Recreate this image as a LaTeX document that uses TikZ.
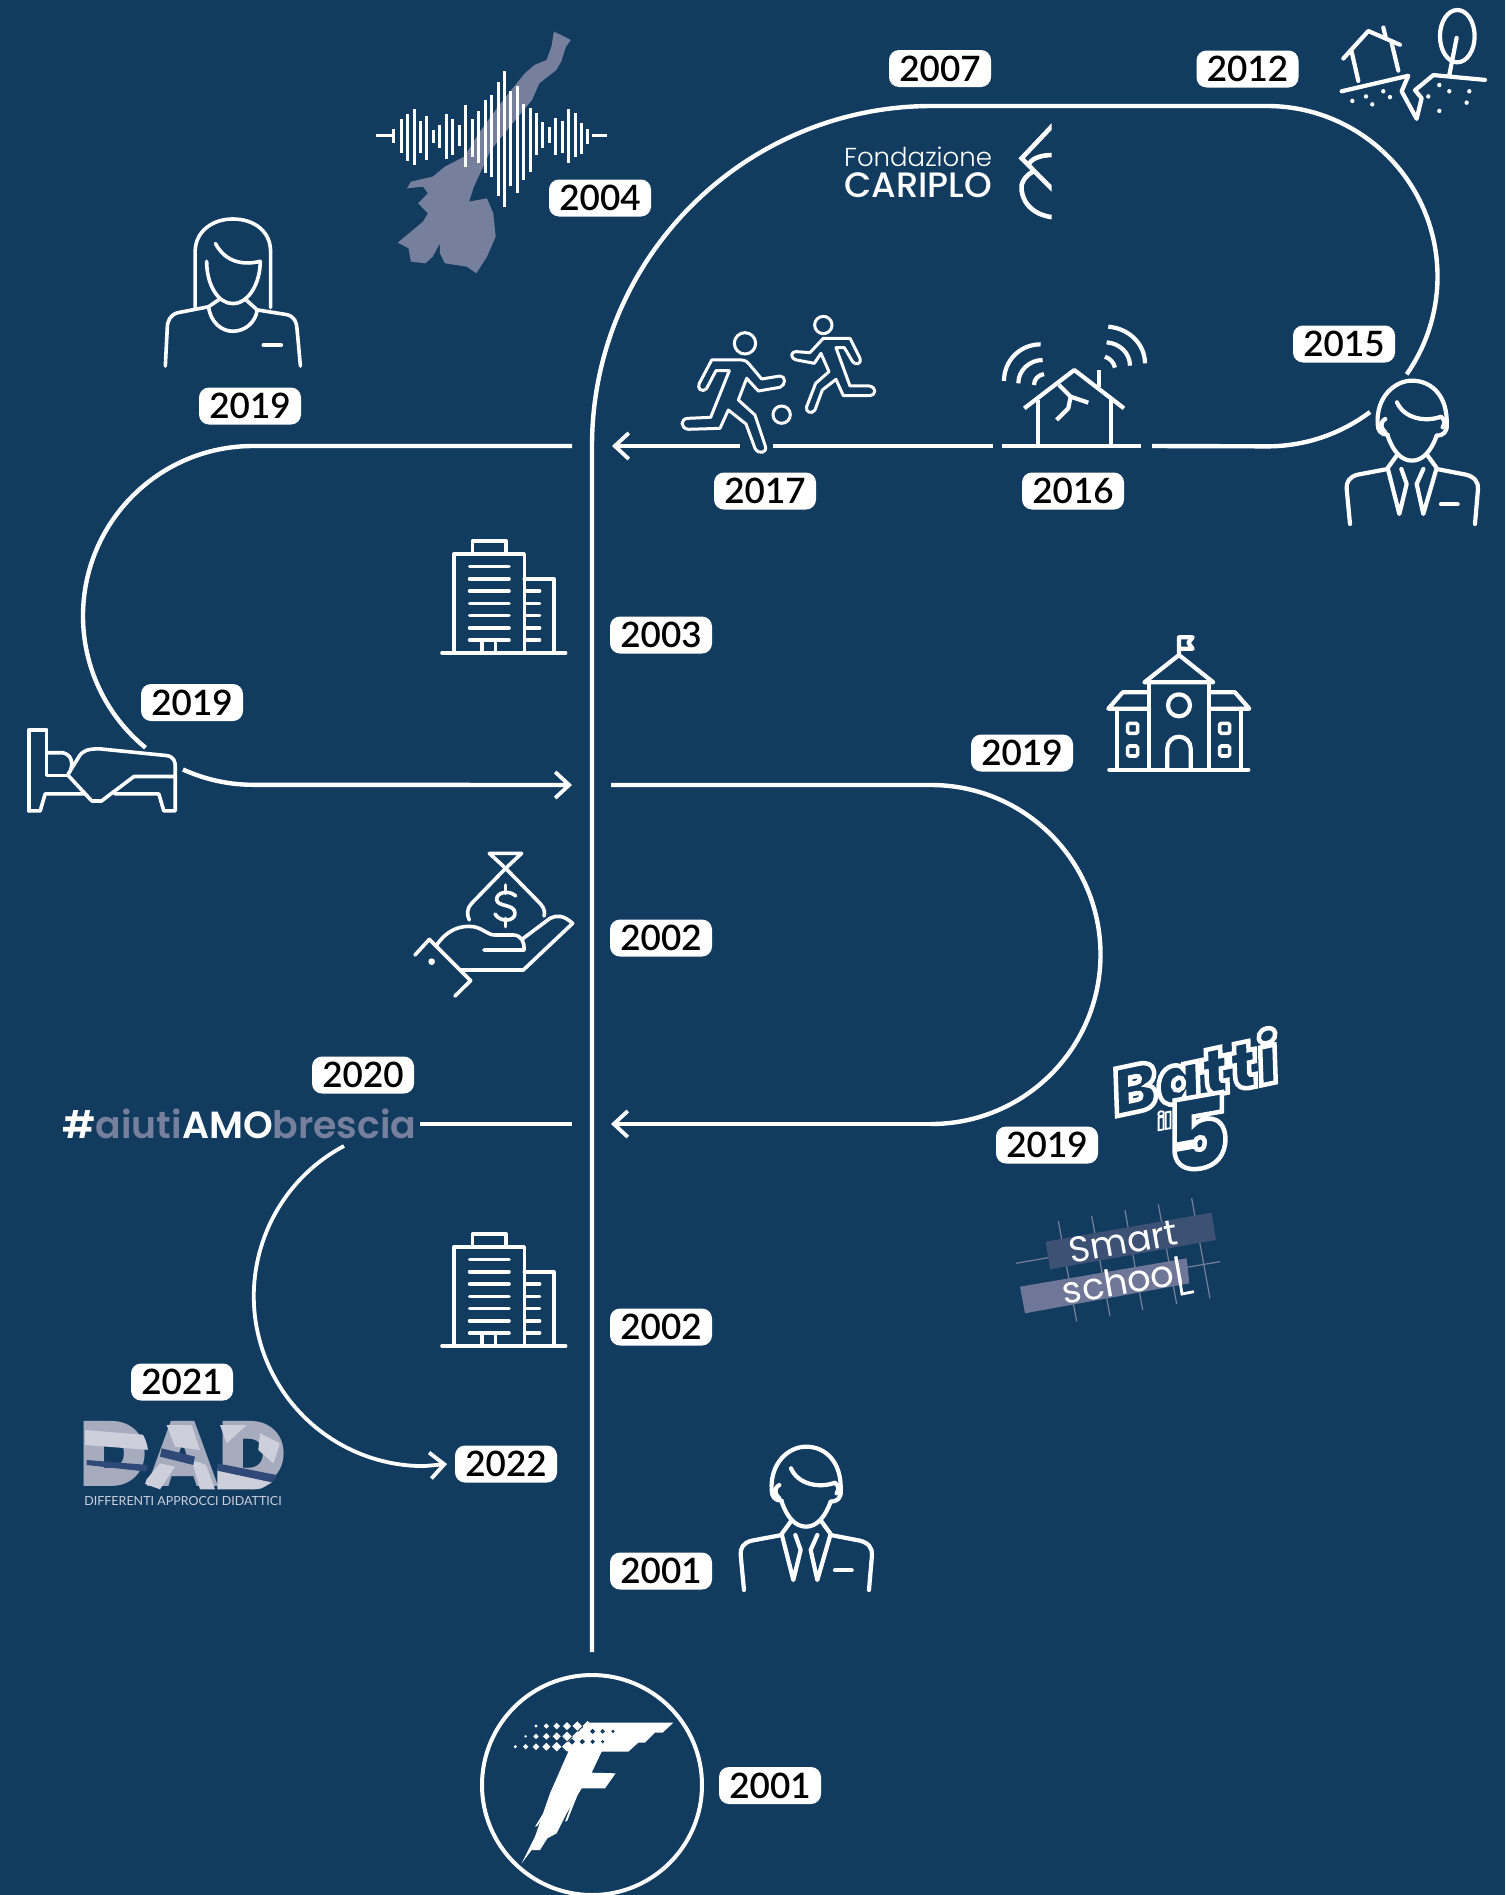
\documentclass[tikz,border=0pt]{standalone}
\usepackage{fontspec}
\usetikzlibrary{arrows.meta}
\setmainfont{Lato}
\newfontfamily\yearfam{Lato}[UprightFont=* Semibold]
\newfontfamily\poplight{Poppins}[UprightFont=* Light]
\newfontfamily\popreg{Poppins}
\newfontfamily\popmed{Poppins}[UprightFont=* Medium]
\newfontfamily\popsemi{Poppins}[UprightFont=* SemiBold]
\newfontfamily\popblack{Poppins}[UprightFont=* Black]
\newfontfamily\popblackit{Poppins}[UprightFont=* Black Italic]
\definecolor{bgc}{HTML}{123B60}
\definecolor{slate}{HTML}{767F9B}
\definecolor{slatedk}{HTML}{3D5175}
\definecolor{slatemd}{HTML}{6E7797}
\definecolor{dadbase}{HTML}{A6ABBE}
\definecolor{dadlight}{HTML}{CDD0DB}
\definecolor{daddark}{HTML}{2F4A78}
\tikzset{
  yeartag/.style={fill=white,rounded corners=10pt,minimum width=102pt,minimum height=37pt,inner sep=0pt,text=black,font=\yearfam\fontsize{35}{40}\selectfont},
  conn/.style={draw=white,line width=4.4pt},
  connthin/.style={draw=white,line width=3.8pt},
  tip/.style={-{Straight Barb[length=14pt,width=26pt,line width=3.8pt]}},
  icon/.style={draw=white,line width=4.2pt,line cap=round,line join=round},
  iconthin/.style={draw=white,line width=3pt,line cap=round,line join=round},
  iconmid/.style={draw=white,line width=3.6pt,line cap=round,line join=round},
  zA/.style={shift={(360,0)},xscale=0.4847,yscale=0.3333},
  zB/.style={shift={(1100,0)},xscale=0.3333,yscale=0.3444},
  zC/.style={shift={(660,300)},xscale=0.3333,yscale=0.3333},
  zD/.style={shift={(0,200)},xscale=0.3827,yscale=0.3954},
  zE/.style={shift={(1000,620)},xscale=0.3333,yscale=0.3333},
  zF/.style={shift={(980,1020)},xscale=0.3333,yscale=0.3333},
  zG/.style={shift={(400,840)},xscale=0.3333,yscale=0.3333},
  zH/.style={shift={(60,1350)},xscale=0.3333,yscale=0.3333},
  zI/.style={shift={(460,1650)},xscale=0.3333,yscale=0.3333},
  zJ/.style={xscale=0.3333,yscale=0.3333},
}
\newcommand{\manicon}{%
  \draw[icon] (185,215) .. controls (200,260) and (225,290) .. (258,290) .. controls (291,290) and (316,260) .. (332,215);
  \draw[icon] (185,212) .. controls (165,212) and (155,200) .. (155,180) .. controls (150,100) and (205,50) .. (258,50) .. controls (320,50) and (365,100) .. (362,180) .. controls (365,205) and (350,215) .. (332,215);
  \draw[icon] (213,115) .. controls (235,165) and (300,175) .. (345,158) .. controls (360,170) and (355,180) .. (350,190);
  \draw[icon] (178,165) .. controls (160,175) and (165,195) .. (178,205);
  \draw[icon] (212,275) -- (185,312) -- (220,450) -- (242,360) -- (226,315);
  \draw[icon] (305,275) -- (332,312) -- (292,450) -- (272,360) -- (292,315);
  \draw[icon] (185,315) -- (95,332) .. controls (70,338) and (60,355) .. (62,375) -- (72,480);
  \draw[icon] (332,315) -- (420,332) .. controls (445,338) and (458,355) .. (456,375) -- (447,480);
  \draw[icon] (345,421) -- (395,421);
}
\newcommand{\buildingicon}{%
  \draw[iconmid] (1186,1145) -- (1186,895) -- (1370,895) -- (1370,1145);
  \draw[iconmid] (1235,892) -- (1235,862) -- (1322,862) -- (1322,892);
  \draw[iconmid] (1370,958) -- (1447,958) -- (1447,1145);
  \draw[iconmid] (1155,1145) -- (1478,1145);
  \foreach \yy in {927,958,989,1020,1051,1082,1113} {\draw[iconmid] (1227,\yy) -- (1330,\yy);}
  \foreach \yy in {989,1020,1051,1082,1113} {\draw[iconmid] (1375,\yy) -- (1410,\yy);}
  \draw[iconmid] (1260,1145) -- (1260,1115);
  \draw[iconmid] (1295,1145) -- (1295,1115);
}
\begin{document}
\begin{tikzpicture}[x=1pt,y=-1pt]
\useasboundingbox (0,0) rectangle (1505,1895);
\fill[bgc] (0,0) rectangle (1505,1895);

% ---- map + waveform
\begin{scope}[zA]
\fill[slate] (400,95) -- (415,105) -- (435,120) -- (425,140) -- (415,185) -- (405,210) -- (370,250) -- (355,300) -- (315,370) -- (270,450) -- (235,560) -- (225,605) -- (262,595) -- (275,640) -- (280,710) -- (262,770) -- (240,820) -- (220,800) -- (175,790) -- (165,760) -- (165,730) -- (150,770) -- (135,790) -- (105,785) -- (100,745) -- (78,728) -- (130,665) -- (140,640) -- (120,610) -- (140,580) -- (130,560) -- (97,565) -- (105,545) -- (150,530) -- (175,500) -- (215,470) -- (245,400) -- (290,310) -- (340,220) -- (360,195) -- (385,180) -- (395,140) -- cycle;
\foreach \xx/\ya/\yb in {70/388/430,85/358/460,98/343/482,112/327/494,125/363/460,138/348/480,152/390/430,164/375/445,178/342/476,191/358/465,205/375/437,218/315/500,232/358/470,245/333/488,259/300/518,272/285/530,285/245/588,298/213/620,311/272/558,325/258/578,337/312/540,351/325/515,364/340/465,377/365/445,391/380/430,403/355/465,417/362/458,430/327/488,444/340/472,457/368/462,469/388/432}
  {\draw[white,line width=3pt] (\xx,\ya) -- (\xx,\yb);}
\draw[white,line width=3pt] (33,408) -- (65,408);
\draw[white,line width=3pt] (478,406) -- (510,406);
\end{scope}

% ---- connectors
\coordinate (spineBottom) at (592,1652);
\coordinate (spineTurn) at (592,446);
\coordinate (topA) at (932,106);
\coordinate (topB) at (1267,106);
\coordinate (rB) at (1268,446);
\coordinate (rC) at (1152,446);
\coordinate (h16a) at (1141,446);
\coordinate (h16b) at (1002,446);
\coordinate (h17a) at (993,446);
\coordinate (h17b) at (773,446);
\coordinate (h17c) at (745,446);
\coordinate (h17tip) at (612,446);
\coordinate (lA) at (572,446);
\coordinate (lB) at (253,446);
\coordinate (lC) at (253,785);
\coordinate (lTip) at (572,785);
\coordinate (sA) at (611,785);
\coordinate (sB) at (931,785);
\coordinate (sC) at (931,1124);
\coordinate (sTip) at (611,1124);
\coordinate (aA) at (420,1124);
\coordinate (aB) at (572,1124);
\coordinate (bTip) at (447,1464);
\coordinate (bA) at (423,1464);

\draw[conn] (spineBottom) -- (spineTurn) arc[start angle=180,end angle=90,radius=340pt] -- (topB) arc[start angle=90,end angle=-35,radius=170.5pt];
\draw[conn] (rB) ++(102,-34) arc[start angle=-53,end angle=-90,radius=170.5pt] -- (rC);
\draw[conn] (h16a) -- (h16b);
\draw[conn] (h17a) -- (h17b);
\draw[conn,tip] (h17c) -- (h17tip);
\draw[conn] (lA) -- (lB) arc[start angle=90,end angle=230.8,radius=170pt];
\draw[conn,tip] (lC) ++(-70,-15.5) arc[start angle=245.5,end angle=270,radius=170pt] -- (lTip);
\draw[conn] (sA) -- (sB) arc[start angle=90,end angle=-90,radius=169.5pt];
\draw[conn,tip] (sC) -- (sTip);
\draw[conn] (aA) -- (aB);
\draw[connthin,tip] (bA) ++(-79,-318) arc[start angle=118,end angle=270,radius=170pt] -- (bTip);

% ---- year tags
\node[yeartag] (t2007) at (940,68.5) {2007};
\node[yeartag] (t2012) at (1247.5,69) {2012};
\node[yeartag] (t2004) at (600,198) {2004};
\node[yeartag] (t2015) at (1344,344) {2015};
\node[yeartag] (t2017) at (765,491) {2017};
\node[yeartag] (t2016) at (1073,491) {2016};
\node[yeartag] (t2019a) at (250,406) {2019};
\node[yeartag] (t2019b) at (192,702.5) {2019};
\node[yeartag] (t2003) at (661,635) {2003};
\node[yeartag] (t2019c) at (1022,753) {2019};
\node[yeartag] (t2002a) at (661,938) {2002};
\node[yeartag] (t2019d) at (1047,1145) {2019};
\node[yeartag] (t2020) at (363,1075) {2020};
\node[yeartag] (t2002b) at (661,1327) {2002};
\node[yeartag] (t2021) at (182,1382) {2021};
\node[yeartag] (t2022) at (506,1464) {2022};
\node[yeartag] (t2001a) at (661,1571) {2001};
\node[yeartag] (t2001b) at (770,1785.5) {2001};

% ---- Cariplo
\node[anchor=base west,inner sep=0pt,text=white,font=\poplight\fontsize{26}{30}\selectfont] (fond) at (844,166.7) {Fondazione};
\node[anchor=base west,inner sep=0pt,text=white,font=\popmed\fontsize{35.3}{38}\selectfont] (carip) at (844,197) {CARIPLO};
\begin{scope}[zA]
\clip (1340,360) rectangle (1427,670);
\draw[white,line width=4.6pt] (1430,375) -- (1365,475) -- (1430,570);
\draw[white,line width=4.6pt] (1430,465) .. controls (1400,465) and (1385,478) .. (1378,495);
\draw[white,line width=4.6pt] (1430,652) .. controls (1385,645) and (1362,600) .. (1365,555) .. controls (1368,540) and (1375,525) .. (1388,515);
\end{scope}

% ---- cracked land + tree
\begin{scope}[zB]
\draw[icon] (730,170) -- (805,90) -- (900,130);
\draw[icon] (850,80) -- (858,112);
\draw[icon] (755,150) -- (775,235);
\draw[icon] (875,125) -- (895,205);
\draw[icon] (725,265) -- (925,220) -- (905,265) -- (950,345) -- (965,285) -- (945,262) -- (1000,218) -- (1155,232);
\draw[icon] (1072,105) ellipse[x radius=52,y radius=76];
\draw[icon] (1070,110) -- (1048,218);
\foreach \px/\py in {757/293,798/280,817/303,850/265,870/282,985/280,1018/247,1048/265,1108/265,1100/298,1018/322}
  {\fill[white] (\px,\py) circle[radius=6.5];}
\end{scope}

% ---- man 2015, man 2001
\begin{scope}[shift={(1326,364)},zJ]\manicon\end{scope}
\begin{scope}[shift={(720,1430)},zJ]\manicon\end{scope}

% ---- runners, quake house
\begin{scope}[zC]
\fill[bgc] (240,425) rectangle (335,460);
\draw[iconthin] (255,130) circle[radius=32];
\draw[iconthin] (490,75) circle[radius=26];
\draw[iconthin] (365,344) circle[radius=26];
\draw[iconthin] (155,180) -- (245,180) .. controls (258,182) and (262,185) .. (268,193) -- (305,237) -- (360,228) .. controls (378,228) and (378,255) .. (360,262) -- (295,273) -- (260,235) -- (235,300) -- (285,345) -- (315,435) .. controls (325,460) and (295,465) .. (285,445) -- (258,372) -- (205,330) -- (180,385) -- (85,388) .. controls (60,385) and (60,355) .. (85,355) -- (152,352) -- (208,212) -- (168,212) -- (140,265) .. controls (125,280) and (110,265) .. (118,250) -- cycle;
\draw[iconthin] (490,115) -- (570,115) -- (600,175) .. controls (605,195) and (585,195) .. (578,185) -- (553,143) -- (528,143) -- (570,258) -- (628,258) .. controls (650,262) and (650,285) .. (628,287) -- (550,287) -- (528,238) -- (487,270) -- (465,330) .. controls (455,345) and (435,335) .. (440,320) -- (467,250) -- (507,215) -- (483,160) -- (463,190) -- (410,180) .. controls (390,175) and (390,155) .. (410,155) -- (450,158) -- cycle;
\draw[icon,line cap=butt] (1093,325) -- (1243,210) -- (1392,325);
\draw[icon,line cap=butt] (1318,210) -- (1318,262);
\draw[icon,line cap=butt] (1135,300) -- (1135,435);
\draw[icon,line cap=butt] (1352,290) -- (1352,435);
\draw[icon,line cap=butt] (1197,255) -- (1232,290) -- (1285,308);
\draw[icon,line cap=butt] (1232,290) -- (1225,325) -- (1190,360);
\draw[icon,line cap=butt] (1142,133) .. controls (1080,133) and (1032,182) .. (1032,243);
\draw[icon,line cap=butt] (1148,180) .. controls (1108,180) and (1075,212) .. (1075,250);
\draw[icon,line cap=butt] (1152,222) .. controls (1135,225) and (1122,238) .. (1122,255);
\draw[icon,line cap=butt] (1345,80) .. controls (1405,85) and (1455,130) .. (1455,190);
\draw[icon,line cap=butt] (1340,127) .. controls (1380,130) and (1410,160) .. (1410,197);
\draw[icon,line cap=butt] (1335,170) .. controls (1350,175) and (1362,188) .. (1365,203);
\end{scope}

% ---- woman, bed, building
\begin{scope}[zD]
\draw[iconmid] (510,272) -- (510,130) .. controls (510,80) and (555,48) .. (608,48) .. controls (665,48) and (707,80) .. (707,130) -- (707,272);
\draw[iconmid] (540,155) .. controls (540,215) and (570,262) .. (608,262) .. controls (650,262) and (680,210) .. (680,155);
\draw[iconmid] (563,110) .. controls (590,160) and (640,165) .. (680,155);
\draw[iconmid] (575,250) -- (545,270) .. controls (550,310) and (580,332) .. (608,332) .. controls (640,332) and (668,310) .. (672,278) -- (640,250);
\draw[iconmid] (545,270) -- (465,285) .. controls (445,290) and (437,305) .. (437,325) -- (432,420);
\draw[iconmid] (672,278) -- (750,290) .. controls (770,295) and (775,310) .. (776,325) -- (785,420);
\draw[iconmid] (688,367) -- (735,367);
% bed
\draw[iconmid] (75,1545) -- (75,1340) -- (122,1340) -- (122,1455) -- (178,1455);
\draw[iconmid] (122,1398) -- (165,1398) .. controls (195,1405) and (190,1440) .. (178,1452) -- (205,1410) .. controls (215,1392) and (230,1388) .. (260,1388) -- (435,1405) .. controls (455,1408) and (458,1420) .. (458,1435) -- (458,1545) -- (428,1545) -- (415,1502) -- (300,1502);
\draw[iconmid] (178,1455) -- (240,1520) -- (265,1520) -- (350,1458) -- (458,1458);
\draw[iconmid] (75,1545) -- (105,1545) -- (118,1502) -- (222,1502);
\buildingicon
\end{scope}
\begin{scope}[shift={(0,893)},xscale=0.3827,yscale=0.3954]
\buildingicon
\end{scope}

% ---- school
\begin{scope}[zE]
\draw[icon] (447,445) -- (447,188);
\draw[icon] (627,445) -- (627,188);
\draw[icon] (433,187) -- (537,105) -- (640,187) -- cycle;
\draw[icon] (537,100) -- (537,52) -- (578,52) -- (565,68) -- (578,86) -- (537,86);
\draw[icon] (447,217) -- (368,217) -- (325,266) -- (447,266);
\draw[icon] (350,266) -- (350,445);
\draw[icon] (627,217) -- (705,217) -- (748,266) -- (627,266);
\draw[icon] (723,266) -- (723,445);
\draw[icon] (328,449) -- (745,449);
\draw[icon] (537,256) circle[radius=33];
\draw[icon] (502,445) -- (502,385) arc[start angle=180,end angle=360,radius=35] -- (572,445);
\foreach \wx/\wy in {398/325,398/393,674/325,674/393}
  {\draw[icon,line width=3.6pt,rounded corners=1.5pt] (\wx-15,\wy-15) rectangle (\wx+15,\wy+15);}
\end{scope}

% ---- money hand
\begin{scope}[zG]
\draw[iconmid] (268,40) -- (365,40) -- (268,40) -- (317,85) -- (365,40);
\draw[iconmid] (317,85) -- (215,190) .. controls (200,205) and (200,225) .. (208,240);
\draw[iconmid] (317,85) -- (420,190) .. controls (435,205) and (435,220) .. (432,228);
\draw[iconmid] (317,135) -- (317,160);
\draw[iconmid] (317,235) -- (317,260);
\draw[iconmid] (347,168) .. controls (330,150) and (290,155) .. (290,178) .. controls (290,202) and (345,190) .. (345,220) .. controls (345,245) and (300,248) .. (285,222);
\draw[iconmid] (108,318) .. controls (140,270) and (180,255) .. (220,260) .. controls (250,265) and (262,285) .. (285,285) -- (340,285) .. controls (365,285) and (375,310) .. (372,330) -- (252,330);
\draw[iconmid] (370,295) -- (450,235) .. controls (470,225) and (490,225) .. (518,250) -- (370,390) -- (180,390);
\draw[iconmid] (45,345) -- (88,298) -- (212,422) -- (165,468);
\fill[white] (95,365) circle[radius=10];
\end{scope}

% ---- aiutiAMObrescia
\node[anchor=base west,inner sep=0pt,font=\popsemi\fontsize{37.8}{42}\selectfont] (aiuti) at (62,1138) {\textcolor{white}{\#}\textcolor{slate}{aiuti}\textcolor{white}{AMO}\textcolor{slate}{brescia}};

% ---- Batti il 5
\node[inner sep=0pt,rotate=12,text=bgc,font=\popblackit\fontsize{66}{70}\selectfont] (batti) at (1194,1072) {\special{pdf:code 2 Tr 4.5 w 1 1 1 RG}Batti\special{pdf:code 0 Tr}};
\node[inner sep=0pt,rotate=10,text=bgc,font=\popblackit\fontsize{22}{26}\selectfont] (battiil) at (1164,1120) {\special{pdf:code 2 Tr 1.8 w 1 1 1 RG}il\special{pdf:code 0 Tr}};
\node[inner sep=0pt,rotate=10,text=bgc,font=\popblackit\fontsize{98}{102}\selectfont] (battifive) at (1196,1133) {\special{pdf:code 2 Tr 4.5 w 1 1 1 RG}5\special{pdf:code 0 Tr}};

% ---- Smart school
\begin{scope}[zF]
\foreach \xa/\ya/\xb/\yb in {235/603/290/905,335/588/390/888,435/570/488/870,535/553/590/852,635/535/690/835,108/730/205/713,620/742/720/725}
  {\draw[slate,line width=1.2pt] (\xa,\ya) -- (\xb,\yb);}
\fill[slatedk] (197,665) -- (695,578) -- (708,660) -- (210,748) -- cycle;
\fill[slatemd] (120,800) -- (620,715) -- (628,790) -- (135,880) -- cycle;
\node[inner sep=0pt,rotate=10,text=white,font=\popreg\fontsize{36}{40}\selectfont] (smart) at (430,665) {Smart};
\node[inner sep=0pt,rotate=10,text=white,font=\popreg\fontsize{37}{40}\selectfont] (school) at (428,782) {school};
\draw[white,line width=2.8pt] (598,770) -- (606,822) -- (642,815);
\end{scope}

% ---- DAD
\node[inner sep=0pt,text=dadbase,font=\popblack\fontsize{92}{96}\selectfont] (dad) at (183,1454) {DAD};
\begin{scope}[zH]
\begin{scope}
\clip (75,218) -- (190,218) .. controls (240,218) and (265,270) .. (265,318) .. controls (265,370) and (240,418) .. (190,418) -- (75,418) -- cycle (315,218) -- (392,218) -- (465,418) -- (250,418) -- cycle (472,218) -- (580,218) .. controls (640,218) and (663,270) .. (663,318) .. controls (663,370) and (640,418) .. (580,418) -- (472,418) -- cycle;
\fill[dadlight] (75,240) -- (260,255) -- (270,300) -- (75,285) -- cycle;
\fill[dadlight] (320,225) -- (395,225) -- (420,300) -- (345,290) -- cycle;
\fill[dadlight] (250,400) -- (300,340) -- (345,350) -- (300,418) -- cycle;
\fill[dadlight] (395,330) -- (440,345) -- (465,418) -- (420,418) -- cycle;
\fill[dadlight] (472,355) -- (640,395) -- (600,418) -- (472,418) -- cycle;
\fill[dadlight] (480,225) -- (560,225) -- (500,280) -- cycle;
\fill[dadlight] (600,250) -- (660,280) -- (640,340) -- (595,300) -- cycle;
\fill[daddark] (80,330) -- (265,345) -- (260,365) -- (80,345) -- cycle;
\fill[daddark] (305,295) -- (405,320) -- (400,345) -- (300,320) -- cycle;
\fill[daddark] (472,340) -- (650,375) -- (640,398) -- (472,362) -- cycle;
\end{scope}
\end{scope}
\node[inner sep=0pt,text=dadlight,font=\fontsize{12.5}{14}\selectfont] (dadcap) at (183,1501) {DIFFERENTI APPROCCI DIDATTICI};

% ---- F logo
\draw[white,line width=4pt] (592,1785) circle[radius=110];
\begin{scope}[zI]
\fill[white] (385,218) -- (640,218) -- (608,248) -- (585,248) -- (555,278) -- (535,278) -- (505,305) -- (425,305) -- (395,368) -- (467,370) -- (435,415) -- (365,415) -- (320,490) -- (290,550) -- (262,565) -- (240,600) -- (215,600) -- (185,640) -- (225,560) -- (270,430) -- (325,305) -- (320,280) -- (360,240) -- cycle;
\fill[white] (225,530) -- (262,470) -- (268,472) -- (232,528) -- cycle;
\fill[white] (315,515) -- (345,435) -- (352,437) -- (322,512) -- cycle;
\foreach \dx/\dy/\ds in {228/228/5,259/228/8,290/228/10,321/228/12,352/228/14,383/228/15,
  197/259/4,228/259/8,259/259/10,290/259/12,321/259/14,352/259/15,
  166/290/5,197/290/8,228/290/10,259/290/12,290/290/14,321/290/15}
  {\fill[white] (\dx-\ds,\dy) -- (\dx,\dy-\ds) -- (\dx+\ds,\dy) -- (\dx,\dy+\ds) -- cycle;}
\foreach \dx/\dy/\ds in {398/244/8,428/244/7,459/244/5,336/275/9,367/275/8,398/275/7,428/275/5}
  {\fill[bgc] (\dx-\ds,\dy) -- (\dx,\dy-\ds) -- (\dx+\ds,\dy) -- (\dx,\dy+\ds) -- cycle;}
\end{scope}
\end{tikzpicture}
\end{document}
